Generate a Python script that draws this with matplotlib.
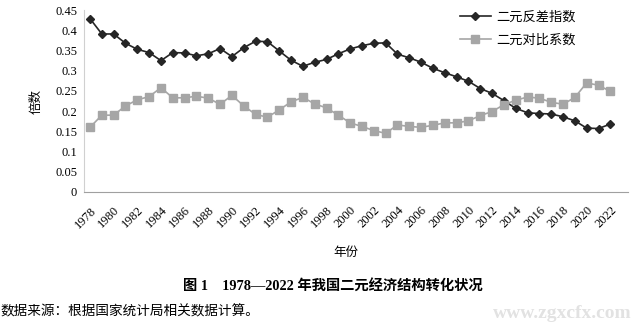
import matplotlib.pyplot as plt
import numpy as np

years = np.arange(1978, 2023)
reverse_idx = [0.429, 0.391, 0.391, 0.368, 0.353, 0.345, 0.325, 0.345, 0.344, 0.337,
               0.342, 0.355, 0.335, 0.357, 0.373, 0.372, 0.349, 0.326, 0.311, 0.321,
               0.328, 0.342, 0.354, 0.362, 0.368, 0.369, 0.341, 0.332, 0.321, 0.306,
               0.295, 0.285, 0.274, 0.256, 0.244, 0.226, 0.207, 0.196, 0.194, 0.193,
               0.186, 0.176, 0.158, 0.157, 0.168]
contrast_coef = [0.160, 0.190, 0.190, 0.213, 0.228, 0.236, 0.258, 0.233, 0.233, 0.237,
                 0.232, 0.217, 0.239, 0.213, 0.192, 0.185, 0.203, 0.223, 0.234, 0.218,
                 0.208, 0.190, 0.171, 0.162, 0.152, 0.145, 0.166, 0.162, 0.160, 0.165,
                 0.171, 0.171, 0.176, 0.189, 0.199, 0.216, 0.227, 0.235, 0.232, 0.222,
                 0.217, 0.234, 0.270, 0.264, 0.249]
yticks = [0, 0.05, 0.1, 0.15, 0.2, 0.25, 0.3, 0.35, 0.4, 0.45]

cjk = ['Noto Sans CJK SC', 'DejaVu Sans']
serif = ['Liberation Serif', 'Noto Sans CJK SC']

fig = plt.figure(figsize=(6.37, 3.27), dpi=100)
ax = fig.add_axes([0.132, 0.413, 0.854, 0.556])

ax.plot(years, reverse_idx, color='#262626', lw=1.2, marker='D', ms=4.5,
        label='二元反差指数')
ax.plot(years, contrast_coef, color='#a6a6a6', lw=1.2, marker='s', ms=5.5,
        label='二元对比系数')

ax.set_xlim(1977.5, 2023.5)
ax.set_ylim(0, 0.45)
ax.set_yticks(yticks)
ax.set_yticklabels(['%g' % t for t in yticks], family=serif, fontsize=9)
ax.set_xticks(years[::2])
ax.set_xticklabels([str(y) for y in years[::2]], family=serif, fontsize=9,
                   rotation=45, ha='right', va='top', rotation_mode='anchor')
ax.tick_params(length=0, pad=5)
ax.tick_params(axis='x', pad=9)

for s in ['top', 'right']:
    ax.spines[s].set_visible(False)
ax.spines['left'].set_color('#d0d0d0')
ax.spines['bottom'].set_color('#a0a0a0')

ax.set_ylabel('倍数', family=cjk, fontsize=9, labelpad=9)

leg = ax.legend(loc='upper left', bbox_to_anchor=(455 / 637, 0.983),
                bbox_transform=fig.transFigure, borderaxespad=0, frameon=False,
                prop={'family': cjk, 'size': 9.5}, handlelength=2.3,
                handletextpad=0.4, labelspacing=0.75)

fig.text(346 / 637, 1 - 252 / 327, '年份', family=cjk, fontsize=9, ha='center', va='center')
fig.text(333 / 637, 1 - 286 / 327, '图 1　1978—2022 年我国二元经济结构转化状况',
         family=serif, fontsize=10.3, weight='bold', ha='center', va='center')
fig.text(0.0, 1 - 311 / 327, '数据来源：根据国家统计局相关数据计算。', family=cjk,
         fontsize=9.8, ha='left', va='center')
fig.text(632 / 637, 1 - 314 / 327, 'www.zgxcfx.com', family='Liberation Serif',
         fontsize=14, color='#e2e2e2', weight='bold', ha='right', va='center')

fig.savefig('out.png', dpi=100)
